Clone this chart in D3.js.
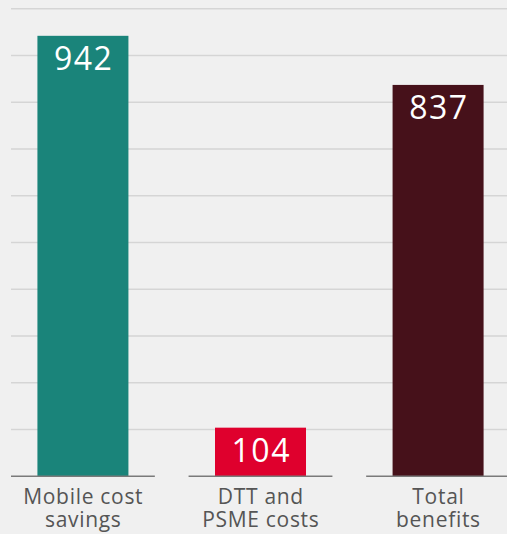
<!DOCTYPE html>
<html>
<head>
<meta charset="utf-8">
<script src="https://cdn.jsdelivr.net/npm/d3@7"></script>
<style>
  html, body { margin: 0; padding: 0; background: #f0f0f0; }
  svg { display: block; }
</style>
</head>
<body>
<svg id="chart" width="507" height="534"></svg>
<script>
const categories = ["Mobile cost savings", "DTT and PSME costs", "Total benefits"];
const labelLines = [["Mobile cost", "savings"], ["DTT and", "PSME costs"], ["Total", "benefits"]];
const values = [942, 104, 837];
const colors = ["#1a847a", "#df002d", "#46111a"];
const gridTicks = [100, 200, 300, 400, 500, 600, 700, 800, 900, 1000];

const svg = d3.select("#chart");
const W = 507, H = 534;

const y = d3.scaleLinear().domain([0, 1000]).range([476.3, 8.7]);
const x = d3.scaleBand().domain(categories).range([11, 510]).paddingInner(0.19).paddingOuter(0);
const barW = 91;

// gridlines
svg.append("g").selectAll("line").data(gridTicks).join("line")
  .attr("x1", 11).attr("x2", W)
  .attr("y1", d => y(d)).attr("y2", d => y(d))
  .attr("stroke", "#d5d5d5").attr("stroke-width", 1.5);

// bars
svg.append("g").selectAll("rect").data(values).join("rect")
  .attr("x", (d, i) => x(categories[i]) + x.bandwidth() / 2 - barW / 2)
  .attr("width", barW)
  .attr("y", d => y(d))
  .attr("height", d => y(0) - y(d))
  .attr("fill", (d, i) => colors[i]);

// baseline segments per category
svg.append("g").selectAll("line").data(categories).join("line")
  .attr("x1", d => x(d)).attr("x2", d => x(d) + x.bandwidth())
  .attr("y1", y(0)).attr("y2", y(0))
  .attr("stroke", "#7a7a7a").attr("stroke-width", 1.6);

// value labels
svg.append("g").selectAll("text").data(values).join("text")
  .attr("x", (d, i) => x(categories[i]) + x.bandwidth() / 2 + 0.75)
  .attr("y", d => y(d) + 34.5)
  .attr("text-anchor", "middle")
  .attr("fill", "#ffffff")
  .attr("font-family", "'Open Sans', sans-serif")
  .attr("font-size", 32)
  .attr("letter-spacing", 1.5)
  .text(d => d);

// category labels (one text element per line)
const labelData = [];
labelLines.forEach((lines, i) => lines.forEach((ln, j) => labelData.push({cat: categories[i], line: ln, row: j})));
svg.append("g").selectAll("text").data(labelData).join("text")
  .attr("x", d => x(d.cat) + x.bandwidth() / 2 + 0.35)
  .attr("y", d => 504 + d.row * 23)
  .attr("text-anchor", "middle")
  .attr("fill", "#555555")
  .attr("font-family", "'Open Sans', sans-serif")
  .attr("font-size", 21)
  .attr("letter-spacing", 0.7)
  .text(d => d.line);
</script>
</body>
</html>
